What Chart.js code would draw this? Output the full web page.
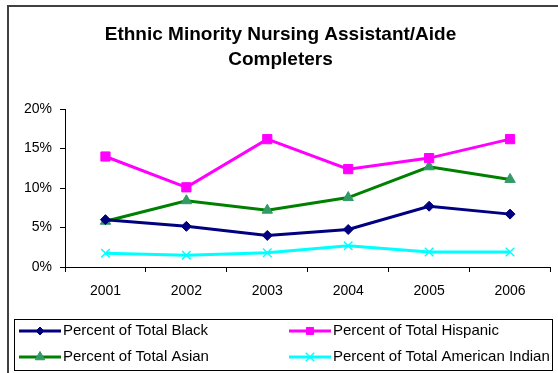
<!DOCTYPE html>
<html>
<head>
<meta charset="utf-8">
<script src="https://cdn.jsdelivr.net/npm/chart.js@4/dist/chart.umd.min.js"></script>
<style>
    html, body { margin: 0; padding: 0; background: #fff; }
    #wrap { width: 558px; height: 373px; position: relative; }
</style>
</head>
<body>
<div id="wrap"><canvas id="chart"></canvas></div>
<script>
// Chart data
const years = ['2001', '2002', '2003', '2004', '2005', '2006'];
const pctBlack = [6.0, 5.15, 4.0, 4.75, 7.7, 6.7];
const pctHispanic = [14.0, 10.1, 16.2, 12.4, 13.8, 16.2];
const pctAsian = [5.8, 8.4, 7.2, 8.8, 12.7, 11.1];
const pctAmIndian = [1.75, 1.5, 1.8, 2.7, 1.9, 1.9];
const yTicks = [0, 5, 10, 15, 20];

const FONT = 'Liberation Sans, Arial, sans-serif';

// Outer frame + Excel-style legend (line sample with marker) drawn by hand
const excelLegend = {
    id: 'excelLegend',
    afterDraw(chart) {
        const ctx = chart.ctx;
        ctx.save();

        // outer frame
        ctx.strokeStyle = '#404040';
        ctx.lineWidth = 2;
        ctx.strokeRect(8, 6, 560, 380);

        // legend box
        ctx.strokeStyle = '#000';
        ctx.lineWidth = 1;
        ctx.strokeRect(14.5, 319.5, 538, 51);

        const cols = [19, 289];
        const rows = [331, 357];
        const legendRadius = [4, 5, 5.5, 6];
        ctx.font = '15px ' + FONT;
        ctx.textBaseline = 'middle';
        chart.data.datasets.forEach((ds, i) => {
            const x = cols[i % 2];
            const y = rows[Math.floor(i / 2)];
            ctx.strokeStyle = ds.borderColor;
            ctx.lineWidth = 3;
            ctx.beginPath();
            ctx.moveTo(x, y);
            ctx.lineTo(x + 42, y);
            ctx.stroke();

            ctx.fillStyle = ds.pointBackgroundColor;
            ctx.strokeStyle = ds.pointBorderColor;
            ctx.lineWidth = ds.pointBorderWidth;
            Chart.helpers.drawPoint(ctx, {
                pointStyle: ds.pointStyle,
                radius: legendRadius[i],
                rotation: 0,
                borderWidth: ds.pointBorderWidth
            }, x + 21, y);

            ctx.fillStyle = '#000';
            ctx.fillText(ds.label, x + 44, y);
        });
        ctx.restore();
    }
};

new Chart(document.getElementById('chart'), {
    type: 'line',
    data: {
        labels: years,
        datasets: [
            {
                label: 'Percent of Total Black',
                data: pctBlack,
                borderColor: '#000080',
                backgroundColor: '#000080',
                pointBackgroundColor: '#000080',
                pointBorderColor: '#000080',
                pointStyle: 'rectRot',
                pointRadius: 5,
                pointBorderWidth: 1
            },
            {
                label: 'Percent of Total Hispanic',
                data: pctHispanic,
                borderColor: '#FF00FF',
                backgroundColor: '#FF00FF',
                pointBackgroundColor: '#FF00FF',
                pointBorderColor: '#FF00FF',
                pointStyle: 'rect',
                pointRadius: 6.5,
                pointBorderWidth: 1
            },
            {
                label: 'Percent of Total Asian',
                data: pctAsian,
                borderColor: '#008000',
                backgroundColor: '#339966',
                pointBackgroundColor: '#339966',
                pointBorderColor: '#339966',
                pointStyle: 'triangle',
                pointRadius: 6,
                pointBorderWidth: 1
            },
            {
                label: 'Percent of Total American Indian',
                data: pctAmIndian,
                borderColor: '#00FFFF',
                backgroundColor: '#00FFFF',
                pointBackgroundColor: '#00FFFF',
                pointBorderColor: '#00FFFF',
                pointStyle: 'crossRot',
                pointRadius: 6,
                pointBorderWidth: 1.5
            }
        ]
    },
    options: {
        responsive: true,
        maintainAspectRatio: false,
        animation: false,
        layout: { padding: { left: 8, right: 5, top: 0, bottom: 76 } },
        elements: { line: { borderWidth: 3, tension: 0 } },
        plugins: {
            legend: { display: false },
            tooltip: { enabled: false },
            title: {
                display: true,
                text: ['Ethnic Minority Nursing Assistant/Aide', 'Completers'],
                color: '#000',
                font: { family: FONT, size: 19, weight: 'bold', lineHeight: 1.32 },
                padding: { top: 22, bottom: 37 }
            }
        },
        scales: {
            x: {
                offset: true,
                afterFit: s => { s.height = 30; },
                grid: {
                    offset: true,
                    drawOnChartArea: false,
                    tickLength: 5,
                    color: '#000'
                },
                border: { color: '#000', width: 1 },
                ticks: { color: '#000', padding: 11, font: { family: FONT, size: 14 } }
            },
            y: {
                min: 0,
                max: 20,
                afterFit: s => { s.width = 57; },
                afterBuildTicks: s => { s.ticks = yTicks.map(v => ({ value: v })); },
                grid: {
                    drawOnChartArea: false,
                    tickLength: 5,
                    color: '#000'
                },
                border: { color: '#000', width: 1 },
                ticks: {
                    color: '#000',
                    padding: 8,
                    font: { family: FONT, size: 14 },
                    callback: v => v + '%'
                }
            }
        }
    },
    plugins: [excelLegend]
});
</script>
</body>
</html>
